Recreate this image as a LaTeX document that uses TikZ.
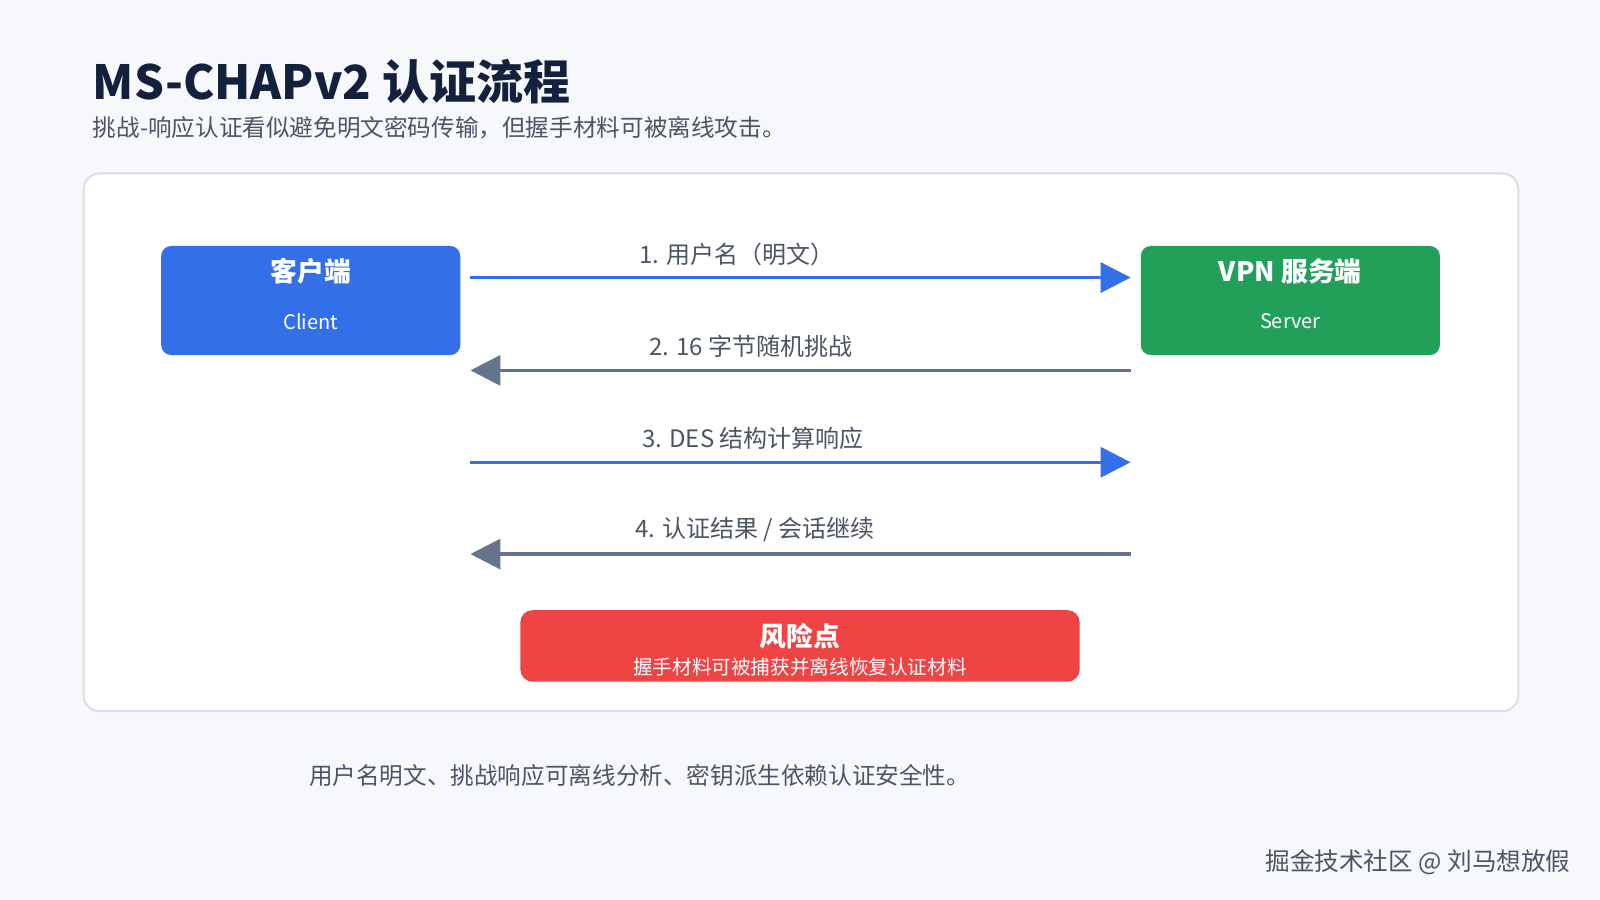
\documentclass[tikz,border=0pt]{standalone}
\usepackage{fontspec}
\setmainfont{Noto Sans CJK SC}
\usetikzlibrary{arrows.meta,positioning}
\definecolor{bgc}{HTML}{F6F8FC}
\definecolor{titlec}{HTML}{14213D}
\definecolor{subc}{HTML}{4B5563}
\definecolor{bluec}{HTML}{3370E8}
\definecolor{greenc}{HTML}{22A05A}
\definecolor{redc}{HTML}{EF4444}
\definecolor{grayc}{HTML}{64748B}
\definecolor{framec}{HTML}{D9DEE6}
\tikzset{
  party/.style={rounded corners=5pt,minimum width=149.5pt,minimum height=54.5pt,inner sep=0pt},
  msg/.style={line width=1.6pt,-{Triangle[length=15pt,width=15pt]}},
  msglabel/.style={font=\fontsize{12}{14}\selectfont,text=subc,above,inner sep=0pt}
}
\begin{document}
\begin{tikzpicture}[x=0.51pt,y=-0.51pt]
    \fill [bgc] (0,0) rectangle (1568,882);
    \useasboundingbox (0,0) rectangle (1568,882);
    \node [anchor=west,text=titlec,font=\fontsize{23.5}{27}\selectfont\bfseries] (title) at (84,80) {MS-CHAPv2 认证流程};
    \node [anchor=west,text=subc,font=\fontsize{11.8}{13}\selectfont] (sub) at (84,125) {挑战-响应认证看似避免明文密码传输，但握手材料可被离线攻击。};
    \draw [fill=white,draw=framec,line width=1pt,rounded corners=8pt] (82,170) rectangle (1488,697);
    % parties
    \node [party,fill=bluec] (client) at (304.5,294.5) {};
    \node [text=white,font=\fontsize{13.4}{15}\selectfont\bfseries] at (304.5,266) {客户端};
    \node [text=white,font=\fontsize{10}{12}\selectfont] at (304.5,315) {Client};
    \node [party,fill=greenc] (server) at (1264.5,294.5) {};
    \node [text=white,font=\fontsize{13.4}{15}\selectfont\bfseries] at (1264.5,266) {VPN 服务端};
    \node [text=white,font=\fontsize{10}{12}\selectfont] at (1264.5,315) {Server};
    % messages
    \coordinate (l1) at (461,272); \coordinate (r1) at (1108,272);
    \coordinate (l2) at (461,363); \coordinate (r2) at (1108,363);
    \coordinate (l3) at (461,453); \coordinate (r3) at (1108,453);
    \coordinate (l4) at (461,543); \coordinate (r4) at (1108,543);
    \draw [msg,bluec] (l1) -- (r1);
    \node [msglabel] at (722,261) {1. 用户名（明文）};
    \draw [msg,grayc] (r2) -- (l2);
    \node [msglabel] at (736,351) {2. 16 字节随机挑战};
    \draw [msg,bluec] (l3) -- (r3);
    \node [msglabel] at (738,441) {3. DES 结构计算响应};
    \draw [msg,grayc] (r4) -- (l4);
    \node [msglabel] at (740,531) {4. 认证结果 / 会话继续};
    % risk
    \node [fill=redc,rounded corners=6pt,minimum width=279.5pt,minimum height=35.7pt] (risk) at (784,633) {};
    \node [text=white,font=\fontsize{13.4}{15}\selectfont\bfseries] at (784,623) {风险点};
    \node [text=white,font=\fontsize{9.8}{11}\selectfont] at (784,654) {握手材料可被捕获并离线恢复认证材料};
    \node [anchor=west,text=subc,font=\fontsize{11.8}{13}\selectfont] (foot) at (296,760) {用户名明文、挑战响应可离线分析、密钥派生依赖认证安全性。};
    \node [anchor=east,text=subc,font=\fontsize{12.3}{14}\selectfont] (mark) at (1546,845) {掘金技术社区 @ 刘马想放假};
\end{tikzpicture}
\end{document}
